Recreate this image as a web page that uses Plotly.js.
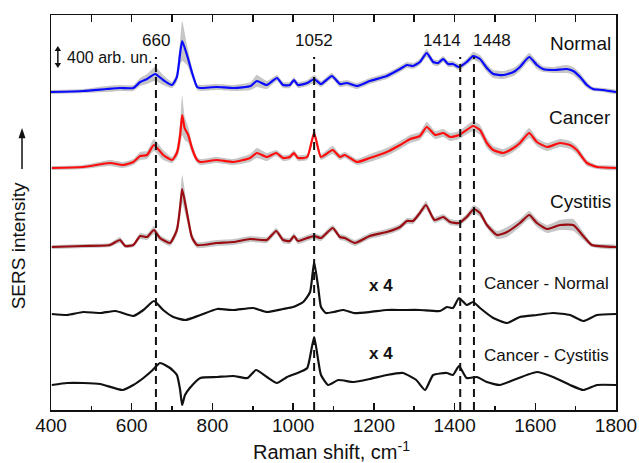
<!DOCTYPE html>
<html><head><meta charset="utf-8">
<script src="https://cdn.plot.ly/plotly-3.0.1.min.js"></script>
<style>html,body{margin:0;padding:0;background:#fff}#chart{width:639px;height:463px}</style>
</head><body><div id="chart"></div>
<script>
// Raman shift (cm-1) and stacked SERS intensities (offset, arb. units / ~19)
const normalX = [400,480,538,571,604,621,638,658,678,700,712,720,725,737,749,762,770,810,852,895,910,935,960,975,992,1002,1012,1035,1052,1069,1096,1116,1133,1158,1190,1232,1265,1282,1297,1314,1331,1347,1359,1372,1384,1396,1411,1430,1446,1463,1480,1496,1521,1546,1562,1585,1604,1619,1644,1678,1694,1711,1728,1743,1768,1800];
const normalY = [319,320,322,323,323,329,332,337,331,326,334,358,370,356,339,324,323,324,323,325,330,326,333,326,326,331,326,328,332,327,335,327,328,325,330,335,342,346,345,349,358,349,348,352,347,347,344,349,355,352,343,337,336,339,344,354,346,342,341,342,340,334,326,322,321,319];
const normalSd = [2,2,3,3,3,4,5,7,5,3,5,12,20,10,5,3,3,3,3,4,6,4,3,3,3,3,3,3,4,3,3,3,3,3,3,3,3,3,3,3,4,3,3,3,3,3,3,3,4,4,4,4,4,4,4,4,4,3,3,4,4,4,3,2,2,2];

const cancerX = [402,480,546,579,604,621,638,655,678,700,712,720,725,731,740,750,762,770,810,852,893,910,935,958,975,992,1002,1012,1035,1052,1069,1098,1116,1128,1158,1190,1232,1265,1290,1314,1331,1352,1372,1389,1411,1446,1463,1480,1496,1521,1546,1562,1585,1604,1629,1661,1686,1703,1728,1753,1800];
const cancerY = [243,244,248,246,249,255,256,266,256,251,258,276,296,283,276,262,251,249,251,249,253,258,254,258,253,254,258,253,254,278,254,261,254,256,249,253,259,266,272,275,284,276,278,274,276,285,281,268,261,258,263,268,278,269,264,268,266,261,248,244,243];
const cancerSd = [2,2,3,3,3,4,4,6,5,3,5,12,20,12,8,5,3,3,3,3,4,5,4,3,3,3,3,3,3,5,3,4,3,3,3,4,4,4,4,4,5,4,4,4,4,5,5,5,4,4,4,4,5,4,4,4,4,4,3,2,2];

const cystitisX = [402,480,546,571,584,604,621,638,655,670,695,712,720,725,737,749,762,810,852,893,935,958,975,992,1002,1012,1035,1052,1069,1098,1116,1128,1153,1190,1232,1265,1282,1297,1314,1329,1350,1372,1389,1411,1430,1448,1463,1480,1505,1530,1562,1585,1604,1629,1661,1694,1719,1740,1800];
const cystitisY = [164,165,166,171,165,166,175,174,181,173,168,181,204,222,198,174,166,168,169,172,171,180,171,170,175,170,173,175,173,183,174,173,168,175,179,184,190,190,198,206,191,194,189,188,194,202,198,186,176,179,188,196,188,182,186,186,175,166,164];
const cystitisSd = [2,2,2,3,2,2,3,3,4,3,3,5,10,14,8,4,3,3,3,3,3,3,3,3,3,3,3,3,3,3,3,3,3,3,3,3,3,3,3,4,3,3,3,3,3,4,4,3,4,5,4,4,4,4,5,6,4,2,2];

const diffCNX = [402,440,480,522,560,604,629,655,678,703,733,770,812,852,901,935,975,1000,1025,1042,1052,1062,1069,1081,1100,1125,1150,1190,1232,1272,1314,1364,1381,1396,1411,1430,1446,1463,1496,1530,1562,1604,1644,1686,1719,1753,1800];
const diffCNY = [97,96,99,98,100,95,101,110,101,94,91,96,102,101,103,99,102,104,109,119,149,124,104,98,99,101,98,99,101,101,101,100,104,103,113,106,109,103,93,88,94,96,98,96,90,96,97];

const diffCCX = [402,440,480,522,577,604,629,652,670,695,712,720,725,732,744,770,812,852,887,908,935,960,985,1017,1035,1052,1062,1069,1087,1112,1150,1190,1232,1272,1305,1327,1347,1381,1396,1411,1430,1455,1480,1512,1546,1604,1644,1686,1719,1753,1800];
const diffCCY = [26,28,28,27,21,26,33,41,48,43,36,21,6,16,23,33,34,35,33,41,34,28,34,39,43,74,51,36,26,31,29,32,36,38,31,21,36,38,36,45,33,34,29,26,31,39,34,26,21,26,26];

const peakPositions = [660, 1052, 1414, 1448];
const peakLabels = ['660', '1052', '1414', '1448'];
const seriesNames = ['Normal', 'Cancer', 'Cystitis', 'Cancer - Normal', 'Cancer - Cystitis'];
const majorTicks = [400,600,800,1000,1200,1400,1600,1800];
const topTicks = [400,500,600,700,800,900,1000,1100,1200,1300,1400,1500,1600,1700,1800];

const FONT = 'Arial, "Liberation Sans", Helvetica, sans-serif';

function band(x, y, sd) {
  const up = x.map((v, i) => y[i] + sd[i]);
  const lo = x.map((v, i) => y[i] - sd[i]);
  return {x: x.concat(x.slice().reverse()), y: up.concat(lo.reverse()),
    mode: 'lines', fill: 'toself', fillcolor: '#c6c6c6', line: {width: 0, color: '#c6c6c6', shape: 'spline', smoothing: 0.5},
    hoverinfo: 'skip', showlegend: false};
}
function line(x, y, color, name) {
  return {x: x, y: y, mode: 'lines', name: name, line: {color: color, width: 2.2, shape: 'spline', smoothing: 0.5}, showlegend: false};
}

const data = [
  band(normalX, normalY, normalSd), line(normalX, normalY, '#0a0aff', seriesNames[0]),
  band(cancerX, cancerY, cancerSd), line(cancerX, cancerY, '#ff0d0d', seriesNames[1]),
  band(cystitisX, cystitisY, cystitisSd), line(cystitisX, cystitisY, '#9a0c12', seriesNames[2]),
  line(diffCNX, diffCNY, '#111111', seriesNames[3]),
  line(diffCCX, diffCCY, '#111111', seriesNames[4]),
  {x: [400, 1800], y: [1, 1], xaxis: 'x2', mode: 'lines', line: {width: 0}, hoverinfo: 'skip', showlegend: false}
];

const shapes = peakPositions.map(p => ({type: 'line', xref: 'x', yref: 'y', x0: p, x1: p, y0: 1, y1: 354,
  line: {color: '#111', width: 2, dash: '8px,5px'}, layer: 'above'}));
// scale bar (double arrow) next to "400 arb. un."
shapes.push({type: 'line', xref: 'x', yref: 'y', x0: 417, x1: 417, y0: 346, y1: 362, line: {color: '#111', width: 1.5}});
shapes.push({type: 'path', xref: 'x', yref: 'y', path: 'M 409,360 L 425,360 L 417,365 Z', fillcolor: '#111', line: {width: 0}});
shapes.push({type: 'path', xref: 'x', yref: 'y', path: 'M 409,348 L 425,348 L 417,343 Z', fillcolor: '#111', line: {width: 0}});
// y-title arrow
shapes.push({type: 'line', xref: 'paper', yref: 'paper', x0: -0.0513, x1: -0.0513, y0: 0.610, y1: 0.695, line: {color: '#111', width: 1.5}});
shapes.push({type: 'path', xref: 'paper', yref: 'paper', path: 'M -0.0575,0.688 L -0.0451,0.688 L -0.0513,0.714 Z', fillcolor: '#111', line: {width: 0}});

const ann = [];
const lblAnchor = ['center', 'center', 'right', 'left'];
const lblX = [660, 1052, 1420, 1440];
peakLabels.forEach((t, i) => ann.push({x: lblX[i], y: 371, xref: 'x', yref: 'y', text: t, showarrow: false,
  xanchor: lblAnchor[i], font: {family: FONT, size: 17, color: '#111'}}));
const nameY = [368, 294, 210, 128, 56];
seriesNames.forEach((t, i) => ann.push({x: i < 3 ? 1793 : 1788, y: nameY[i], xref: 'x', yref: 'y', text: t, showarrow: false,
  xanchor: 'right', font: {family: FONT, size: i < 3 ? 19 : 17, color: '#111'}}));
[126, 58].forEach(yy => ann.push({x: 1218, y: yy, xref: 'x', yref: 'y', text: '<b>x 4</b>', showarrow: false,
  font: {family: FONT, size: 17, color: '#111'}}));
ann.push({x: 434, y: 354, xref: 'x', yref: 'y', text: '400 arb. un.', showarrow: false, xanchor: 'left',
  font: {family: FONT, size: 16, color: '#111'}});
// y axis title
ann.push({x: -0.058, y: 0.415, xref: 'paper', yref: 'paper', text: 'SERS intensity', textangle: -90, showarrow: false,
  xanchor: 'center', yanchor: 'middle', font: {family: FONT, size: 19, color: '#111'}});
// x axis title
ann.push({x: 0.497, y: -0.103, xref: 'paper', yref: 'paper', text: 'Raman shift, cm<sup>-1</sup>', showarrow: false,
  xanchor: 'center', yanchor: 'middle', font: {family: FONT, size: 20, color: '#111'}});

const layout = {
  width: 639, height: 463,
  margin: {l: 51, r: 23, t: 15, b: 53, pad: 0},
  paper_bgcolor: '#ffffff', plot_bgcolor: '#ffffff',
  showlegend: false,
  xaxis: {range: [400, 1800], tickvals: majorTicks, ticktext: majorTicks.map(String), ticks: 'inside', ticklen: 7,
    tickwidth: 1.5, tickcolor: '#111', showline: true, linecolor: '#111', linewidth: 1.5, mirror: true,
    showgrid: false, zeroline: false, ticklabelstandoff: -2, tickfont: {family: FONT, size: 19, color: '#111'},
    minor: {tickvals: [500,700,900,1100,1300,1500,1700], ticks: 'inside', ticklen: 4, tickwidth: 1.5, tickcolor: '#111', showgrid: false}},
  xaxis2: {range: [400, 1800], overlaying: 'x', side: 'top', tickvals: topTicks, ticks: 'inside', ticklen: 7,
    tickwidth: 1.5, tickcolor: '#111', showticklabels: false, showline: false, showgrid: false, zeroline: false},
  yaxis: {range: [1, 396], showline: true, linecolor: '#111', linewidth: 1.5, mirror: true, ticks: '',
    showticklabels: false, showgrid: false, zeroline: false},
  shapes: shapes,
  annotations: ann
};

Plotly.newPlot('chart', data, layout, {displayModeBar: false, staticPlot: true});
</script></body></html>
